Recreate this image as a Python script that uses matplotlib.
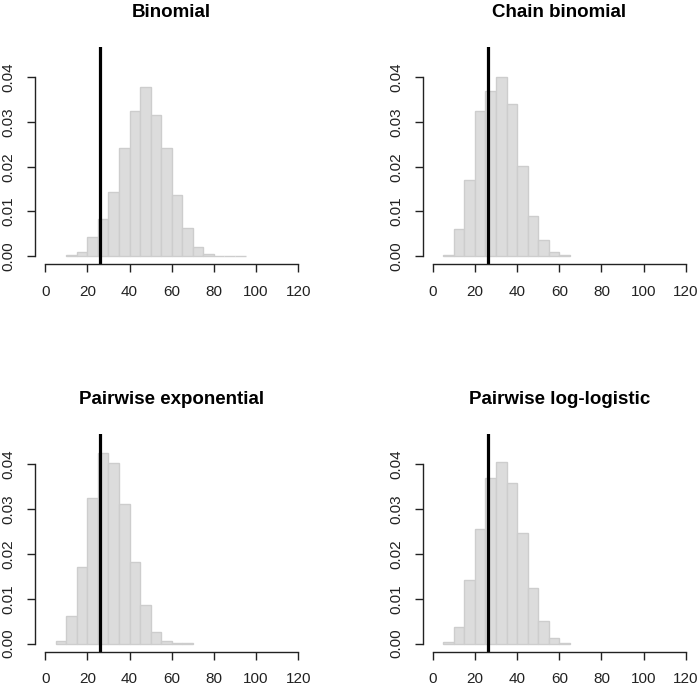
import numpy as np
import matplotlib.pyplot as plt

plt.rcParams['font.family'] = ['Liberation Sans', 'DejaVu Sans']

titles = ['Binomial', 'Chain binomial', 'Pairwise exponential', 'Pairwise log-logistic']

# left edges of the 5-wide bins and their densities
binom_start = 10
binom_dens = [0.0002, 0.0010, 0.0044, 0.0083, 0.0143, 0.0241, 0.0324, 0.0379, 0.0315,
              0.0241, 0.0136, 0.0064, 0.0021, 0.0005, 0.0001, 0.0001, 0.0001]
chain_start = 5
chain_dens = [0.0002, 0.0061, 0.0170, 0.0324, 0.0370, 0.0400, 0.0339, 0.0202, 0.0089,
              0.0036, 0.0010, 0.0002]
pexp_start = 5
pexp_dens = [0.0006, 0.0062, 0.0170, 0.0325, 0.0425, 0.0404, 0.0312, 0.0183, 0.0086,
             0.0026, 0.0006, 0.0001, 0.0001]
pll_start = 5
pll_dens = [0.0003, 0.0037, 0.0141, 0.0256, 0.0370, 0.0405, 0.0359, 0.0247, 0.0123,
            0.0050, 0.0013, 0.0002]

observed = 26
bin_width = 5

starts = [binom_start, chain_start, pexp_start, pll_start]
dens = [binom_dens, chain_dens, pexp_dens, pll_dens]

fig = plt.figure(figsize=(7, 6.88), dpi=100)
W, H = 700, 688
boxes = [(35, 46.7), (422.6, 46.7), (35, 434), (422.6, 434)]
pw, ph = 273.4, 217.6

for k in range(4):
    x0, y0 = boxes[k]
    ax = fig.add_axes([x0 / W, 1 - (y0 + ph) / H, pw / W, ph / H])
    d = dens[k]
    edges = starts[k] + bin_width * np.arange(len(d))
    ax.bar(edges, d, width=bin_width, align='edge', color='#dcdcdc',
           edgecolor='#cdcdcd', linewidth=1.0)
    ax.axvline(observed, color='black', linewidth=2.3)
    ax.set_xlim(-4.8, 124.8)
    ax.set_ylim(-0.0018, 0.0468)
    ax.set_xticks(np.arange(0, 121, 20))
    ax.set_yticks([0, 0.01, 0.02, 0.03, 0.04])
    ax.set_yticklabels(['0.00', '0.01', '0.02', '0.03', '0.04'],
                       rotation=90, va='center')
    for s in ['top', 'right']:
        ax.spines[s].set_visible(False)
    ax.spines['left'].set_bounds(0, 0.04)
    ax.spines['bottom'].set_bounds(0, 120)
    for s in ['left', 'bottom']:
        ax.spines[s].set_color('#222222')
        ax.spines[s].set_linewidth(1.0)
    ax.tick_params(axis='both', length=6, width=1.0, color='#222222',
                   labelsize=11, labelcolor='#222222')
    ax.tick_params(axis='x', pad=9)
    ax.tick_params(axis='y', pad=8)
    ax.set_title(titles[k], fontsize=13.5, fontweight='bold', pad=21.5)

fig.savefig('out.png', dpi=100)
